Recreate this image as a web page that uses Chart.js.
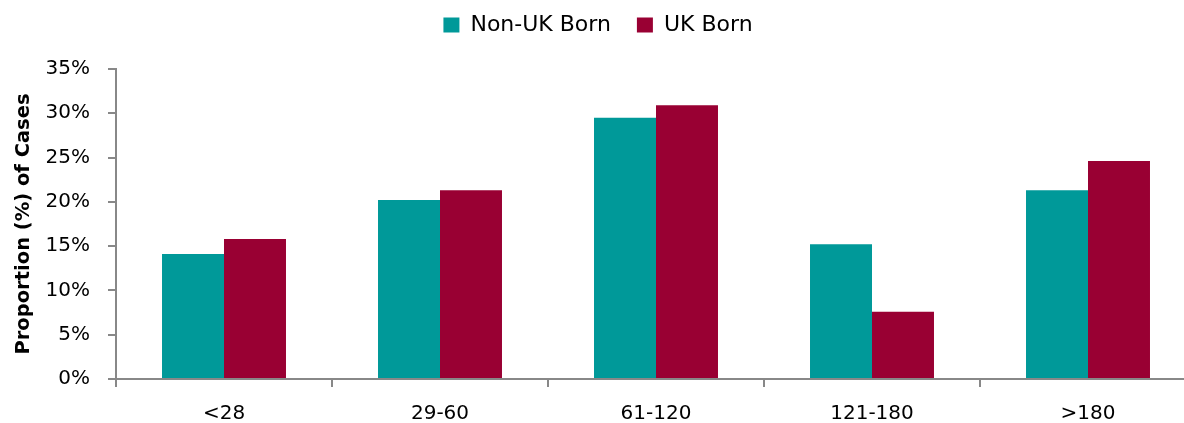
<!DOCTYPE html>
<html>
<head>
<meta charset="utf-8">
<script src="https://cdn.jsdelivr.net/npm/chart.js@4/dist/chart.umd.min.js"></script>
<style>
  html, body { margin: 0; padding: 0; background: #fff; overflow: hidden; }
  #wrap { width: 1200px; height: 423px; }
</style>
</head>
<body>
<div id="wrap"><canvas id="c" width="1200" height="423"></canvas></div>
<script>
// Days-band categories and the share of cases in each band
const categories = ['<28', '29-60', '61-120', '121-180', '>180'];
const nonUkBorn = [14.1, 20.2, 29.5, 15.2, 21.3];
const ukBorn = [15.8, 21.3, 30.9, 7.6, 24.6];
const yTicks = [0, 5, 10, 15, 20, 25, 30, 35];
const seriesNames = ['Non-UK Born', 'UK Born'];

const TEAL = '#009999';
const MAROON = '#990033';
const AXIS = '#888888';
const FONT = 'DejaVu Sans';

// Extra room between the legend row and the plot area
const legendGap = {
  id: 'legendGap',
  beforeLayout(chart) {
    const lg = chart.legend;
    if (lg && !lg._gapPatched) {
      const fit = lg.fit;
      lg.fit = function () { fit.call(this); this.height += 23; };
      lg._gapPatched = true;
    }
  }
};

new Chart(document.getElementById('c'), {
  type: 'bar',
  data: {
    labels: categories,
    datasets: [
      { label: seriesNames[0], data: nonUkBorn, backgroundColor: TEAL, borderWidth: 0 },
      { label: seriesNames[1], data: ukBorn, backgroundColor: MAROON, borderWidth: 0 }
    ]
  },
  plugins: [legendGap],
  options: {
    responsive: false,
    animation: false,
    layout: { padding: { left: 0, right: 4, top: -12, bottom: 0 } },
    datasets: { bar: { categoryPercentage: 0.574, barPercentage: 1.0 } },
    plugins: {
      tooltip: { enabled: false },
      legend: {
        position: 'top',
        align: 'center',
        labels: {
          boxWidth: 16,
          boxHeight: 15,
          padding: 26,
          color: '#000',
          font: { family: FONT, size: 22 }
        }
      }
    },
    scales: {
      x: {
        grid: { display: true, drawOnChartArea: false, drawTicks: true, tickLength: 8, color: AXIS, lineWidth: 2, offset: true },
        border: { display: true, color: AXIS, width: 2 },
        ticks: { color: '#000', font: { family: FONT, size: 20 }, padding: 15, maxRotation: 0 },
        afterFit: (s) => { s.height = 44; }
      },
      y: {
        min: 0,
        max: 35,
        afterBuildTicks: (s) => { s.ticks = yTicks.map(v => ({ value: v })); },
        grid: { display: true, drawOnChartArea: false, drawTicks: true, tickLength: 8, color: AXIS, lineWidth: 2 },
        border: { display: true, color: AXIS, width: 2 },
        ticks: {
          color: '#000',
          font: { family: FONT, size: 20 },
          padding: 18,
          callback: (v) => v + '%'
        },
        title: {
          display: true,
          text: 'Proportion (%) of Cases',
          color: '#000',
          font: { family: FONT, size: 19.5, weight: 'bold' },
          padding: { top: 12, bottom: 0 }
        },
        afterFit: (s) => { s.width = 116; }
      }
    }
  }
});
</script>
</body>
</html>
